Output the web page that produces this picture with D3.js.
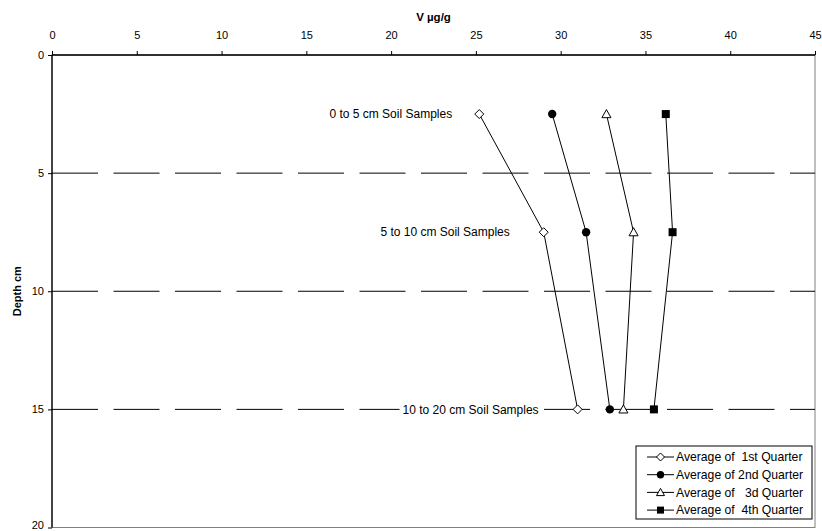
<!DOCTYPE html>
<html><head><meta charset="utf-8">
<script src="https://cdn.jsdelivr.net/npm/d3@7"></script>
<style>
body{margin:0;background:#fff;}
text{font-family:"Liberation Sans",Arial,sans-serif;}
</style></head>
<body><svg id="c" width="822" height="531"></svg>
<script>
const depths = [2.5, 7.5, 15];
const q1 = [25.2, 29.0, 31.0];
const q2 = [29.5, 31.5, 32.9];
const q3 = [32.7, 34.3, 33.7];
const q4 = [36.2, 36.6, 35.5];
const seriesNames = ["Average of  1st Quarter", "Average of 2nd Quarter", "Average of   3d Quarter", "Average of  4th Quarter"];
const seriesMarkers = ["diamond", "circle", "triangle", "square"];
const xTicks = [0,5,10,15,20,25,30,35,40,45];
const yTicks = [0,5,10,15,20];
const gridDepths = [5,10,15];
const annotations = [
  {text:"0 to 5 cm Soil Samples", x:23.6, y:2.5, bg:false},
  {text:"5 to 10 cm Soil Samples", x:27.0, y:7.5, bg:false},
  {text:"10 to 20 cm Soil Samples", x:28.7, y:15, bg:true}
];

const svg = d3.select("#c");
const L=52, R=815, T=55, B=527.5;
const x = d3.scaleLinear().domain([0,45]).range([L,R]);
const y = d3.scaleLinear().domain([0,20]).range([T,B]);

// plot border
svg.append("rect").attr("x",L).attr("y",T).attr("width",R-L).attr("height",B-T)
  .attr("fill","#fff").attr("stroke","#808080").attr("stroke-width",1);

// grid
svg.selectAll(".grid").data(gridDepths).enter().append("line")
  .attr("x1",L).attr("x2",R).attr("y1",d=>y(d)).attr("y2",d=>y(d))
  .attr("stroke","#000").attr("stroke-width",1).attr("stroke-dasharray","46,15.5");

// axes
const xa = svg.append("g").attr("transform",`translate(0,${T})`)
  .call(d3.axisTop(x).tickValues(xTicks).tickSize(4).tickPadding(12).tickFormat(d3.format("d")));
const ya = svg.append("g").attr("transform",`translate(${L},0)`)
  .call(d3.axisLeft(y).tickValues(yTicks).tickSize(4).tickPadding(4).tickFormat(d3.format("d")));
[xa,ya].forEach(a=>{
  a.select(".domain").attr("stroke","#000").attr("stroke-width",1.3);
  a.selectAll(".tick line").attr("stroke","#000");
  a.selectAll("text").attr("font-size",11).attr("font-family","Liberation Sans, Arial, sans-serif").attr("fill","#000");
});
xa.select(".domain").attr("d",`M${L},0H${R}`);
ya.select(".domain").attr("d",`M0,${T}V${B}`);
ya.selectAll(".tick text").filter(d=>d===20).attr("dy","0.1em");

svg.append("text").attr("x",(L+R)/2).attr("y",21).attr("text-anchor","middle")
  .attr("font-size",11.5).attr("font-weight","bold").text("V µg/g");
svg.append("text").attr("transform",`translate(21,${(T+B)/2}) rotate(-90)`).attr("text-anchor","middle")
  .attr("font-size",11).attr("font-weight","bold").text("Depth cm");

// annotations
annotations.forEach(a=>{
  const g = svg.append("g");
  const t = g.append("text").attr("x",x(a.x)).attr("y",y(a.y)).attr("dy","0.35em")
    .attr("text-anchor","end").attr("font-size",12).attr("fill","#000").text(a.text);
  if(a.bg){
    const bb = t.node().getBBox();
    g.insert("rect","text").attr("x",bb.x-3).attr("y",bb.y).attr("width",bb.width+6).attr("height",bb.height).attr("fill","#fff");
  }
});

const allSeries = [q1,q2,q3,q4];
function marker(sel, type, s){
  if(type==="diamond"){
    sel.append("path").attr("d",`M0,${-s}L${s},0L0,${s}L${-s},0Z`).attr("fill","#fff").attr("stroke","#000").attr("stroke-width",1);
  } else if(type==="circle"){
    sel.append("circle").attr("r",s-0.3).attr("fill","#000");
  } else if(type==="triangle"){
    sel.append("path").attr("d",`M0,${-s}L${s},${s*0.8}L${-s},${s*0.8}Z`).attr("fill","#fff").attr("stroke","#000").attr("stroke-width",1);
  } else {
    sel.append("rect").attr("x",-s+0.5).attr("y",-s+0.5).attr("width",2*s-1).attr("height",2*s-1).attr("fill","#000");
  }
}
const line = d3.line().x(d=>x(d[0])).y(d=>y(d[1]));
allSeries.forEach((vals,i)=>{
  const pts = vals.map((v,j)=>[v,depths[j]]);
  svg.append("path").attr("d",line(pts)).attr("fill","none").attr("stroke","#000").attr("stroke-width",1);
  pts.forEach(p=>{
    const g = svg.append("g").attr("transform",`translate(${x(p[0])},${y(p[1])})`);
    marker(g, seriesMarkers[i], 4.5);
  });
});

// legend
const lg = svg.append("g").attr("transform","translate(636,446)");
lg.append("rect").attr("x",0).attr("y",0).attr("width",176).attr("height",73).attr("fill","#fff").attr("stroke","#000").attr("stroke-width",1);
seriesNames.forEach((n,i)=>{
  const yy = 11 + i*17.7;
  lg.append("line").attr("x1",11).attr("x2",38).attr("y1",yy).attr("y2",yy).attr("stroke","#000");
  const g = lg.append("g").attr("transform",`translate(24.5,${yy})`);
  marker(g, seriesMarkers[i], 4);
  lg.append("text").attr("x",40).attr("y",yy).attr("dy","0.35em").attr("font-size",12.2)
    .style("white-space","pre").text(n);
});
</script></body></html>
